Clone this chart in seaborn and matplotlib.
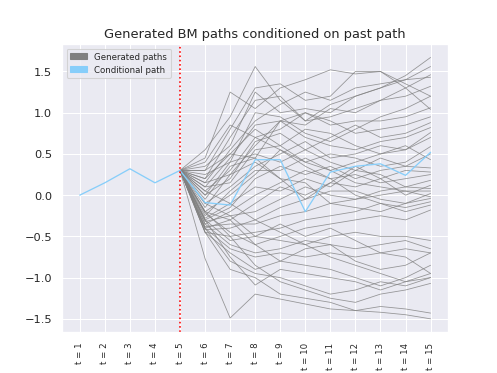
import numpy as np
import pandas as pd
import matplotlib
matplotlib.use("Agg")
import matplotlib.pyplot as plt
import matplotlib.patches as mpatches
import seaborn as sns

# time steps and labels
steps = list(range(1, 16))
tick_labels = ["t = %d" % s for s in steps]
cond_time = 5

# the conditional (observed + continued) path
cond_path = [0.0, 0.15, 0.32, 0.15, 0.30, -0.09, -0.12, 0.43, 0.43, -0.2,
             0.28, 0.35, 0.38, 0.24, 0.52]

# generated paths, values for t = 6 .. t = 15 (all start at the t = 5 value)
gen_paths = [
    [0.55, 0.95, 1.56, 1.15, 0.9, 1.1, 1.2, 1.3, 1.45, 1.67],
    [0.45, 1.25, 1.05, 1.3, 1.4, 1.52, 1.47, 1.5, 1.35, 1.2],
    [0.3, 0.8, 1.3, 1.35, 1.15, 1.2, 1.5, 1.5, 1.3, 1.04],
    [0.35, 0.6, 1.25, 1.0, 1.05, 1.0, 1.2, 1.3, 1.4, 1.56],
    [0.2, 0.7, 1.15, 1.2, 0.9, 0.95, 1.05, 1.15, 1.3, 1.46],
    [0.15, 0.55, 0.9, 1.1, 1.25, 1.15, 1.3, 1.35, 1.4, 1.43],
    [0.1, 0.45, 0.85, 0.9, 0.85, 1.05, 1.0, 1.15, 1.2, 1.32],
    [0.25, 0.4, 1.0, 0.95, 0.75, 0.65, 0.8, 0.95, 1.05, 1.2],
    [0.05, 0.3, 0.7, 0.8, 1.0, 0.9, 0.75, 0.8, 0.85, 0.95],
    [0.0, 0.2, 0.65, 0.75, 0.55, 0.7, 0.85, 0.7, 0.75, 0.88],
    [-0.05, 0.35, 0.45, 0.9, 0.7, 0.6, 0.55, 0.65, 0.7, 0.82],
    [0.1, 0.15, 0.55, 0.6, 0.8, 0.75, 0.6, 0.5, 0.55, 0.76],
    [-0.1, 0.1, 0.35, 0.5, 0.65, 0.45, 0.5, 0.6, 0.55, 0.70],
    [-0.2, 0.0, 0.25, 0.55, 0.4, 0.5, 0.45, 0.35, 0.4, 0.59],
    [-0.25, 0.05, 0.3, 0.3, 0.45, 0.3, 0.4, 0.5, 0.6, 0.43],
    [-0.3, -0.15, 0.2, 0.35, 0.25, 0.35, 0.2, 0.3, 0.35, 0.33],
    [-0.35, -0.2, 0.0, 0.15, 0.3, 0.2, 0.25, 0.15, 0.2, 0.25],
    [-0.28, -0.1, 0.1, 0.05, 0.2, 0.1, 0.3, 0.25, 0.1, 0.18],
    [-0.4, -0.3, -0.1, 0.1, 0.0, 0.15, 0.1, 0.2, 0.0, 0.12],
    [-0.32, -0.25, -0.2, -0.05, 0.1, 0.0, -0.05, 0.05, 0.1, 0.08],
    [-0.42, -0.4, -0.3, -0.15, -0.05, 0.05, 0.05, -0.05, -0.1, 0.02],
    [-0.38, -0.35, -0.35, -0.25, -0.2, -0.1, -0.15, -0.2, -0.1, -0.04],
    [-0.45, -0.5, -0.45, -0.4, -0.3, -0.25, -0.2, -0.1, -0.15, -0.08],
    [-0.22, -0.45, -0.6, -0.5, -0.4, -0.35, -0.3, -0.25, -0.3, -0.18],
    [-0.3, -0.55, -0.5, -0.55, -0.6, -0.5, -0.45, -0.5, -0.5, -0.55],
    [-0.35, -0.6, -0.7, -0.65, -0.55, -0.6, -0.65, -0.6, -0.55, -0.65],
    [-0.4, -0.65, -0.75, -0.7, -0.75, -0.7, -0.75, -0.7, -0.65, -0.70],
    [-0.45, -0.7, -0.9, -0.8, -0.85, -0.9, -1.0, -1.1, -1.0, -0.85],
    [-0.3, -0.75, -1.09, -0.9, -0.95, -1.0, -1.05, -1.15, -1.05, -0.95],
    [-0.4, -0.8, -0.95, -1.0, -1.1, -1.2, -1.15, -1.05, -1.1, -1.0],
    [-0.2, -0.5, -0.85, -1.05, -1.15, -1.25, -1.3, -1.2, -1.15, -1.07],
    [-0.77, -1.49, -1.2, -1.26, -1.32, -1.38, -1.4, -1.42, -1.45, -1.50],
    [-0.45, -0.9, -1.0, -1.2, -1.25, -1.3, -1.4, -1.35, -1.38, -1.43],
    [0.0, 0.4, 0.5, 0.4, 0.55, 0.4, 0.3, 0.45, 0.35, 0.50],
    [-0.15, 0.25, 0.4, 0.2, -0.05, 0.15, 0.35, 0.2, 0.3, 0.28],
    [0.2, 0.5, 0.8, 0.6, 0.4, 0.3, 0.15, 0.1, 0.05, -0.02],
    [0.4, 0.85, 0.7, 0.55, 0.35, 0.2, 0.0, -0.1, -0.2, -0.12],
    [-0.1, -0.25, -0.5, -0.35, -0.5, -0.4, -0.55, -0.7, -0.75, -0.95],
    [0.05, -0.1, -0.3, -0.45, -0.6, -0.75, -0.85, -0.95, -1.05, -1.0],
    [0.15, 0.25, 0.6, 0.9, 1.0, 0.85, 0.9, 0.9, 0.95, 1.06],
    [-0.2, -0.3, -0.6, -0.8, -0.65, -0.6, -0.8, -0.9, -0.85, -0.7],
    [0.3, 0.5, 0.45, 0.2, 0.15, -0.1, -0.05, 0.0, 0.05, 0.05],
]

sns.set_theme(style="darkgrid")

# long table for the generated paths
rows = []
start = cond_path[cond_time - 1]
for i, p in enumerate(gen_paths):
    vals = [start] + p
    for t, v in zip(steps[cond_time - 1:], vals):
        rows.append({"path": i, "t": t, "value": v})
gen_df = pd.DataFrame(rows)
cond_df = pd.DataFrame({"t": steps, "value": cond_path})

fig, ax = plt.subplots(figsize=(6.4, 4.8), dpi=77.8)

sns.lineplot(data=gen_df, x="t", y="value", units="path", estimator=None,
             color="grey", linewidth=0.75, alpha=0.8, ax=ax)
sns.lineplot(data=cond_df, x="t", y="value", color="lightskyblue",
             linewidth=1.2, ax=ax)
ax.axvline(cond_time, color="red", linestyle=":", linewidth=1.5)

ax.set_xticks(steps)
ax.set_xticklabels(tick_labels, rotation=90, fontsize=8)
ax.tick_params(axis="y", labelsize=10.5)
ax.set_xlabel("")
ax.set_ylabel("")
ax.set_title("Generated BM paths conditioned on past path", fontsize=12)

handles = [mpatches.Patch(color="grey", label="Generated paths"),
           mpatches.Patch(color="lightskyblue", label="Conditional path")]
ax.legend(handles=handles, loc="upper left", fontsize=8)

fig.savefig("out.png", dpi=77.8)
